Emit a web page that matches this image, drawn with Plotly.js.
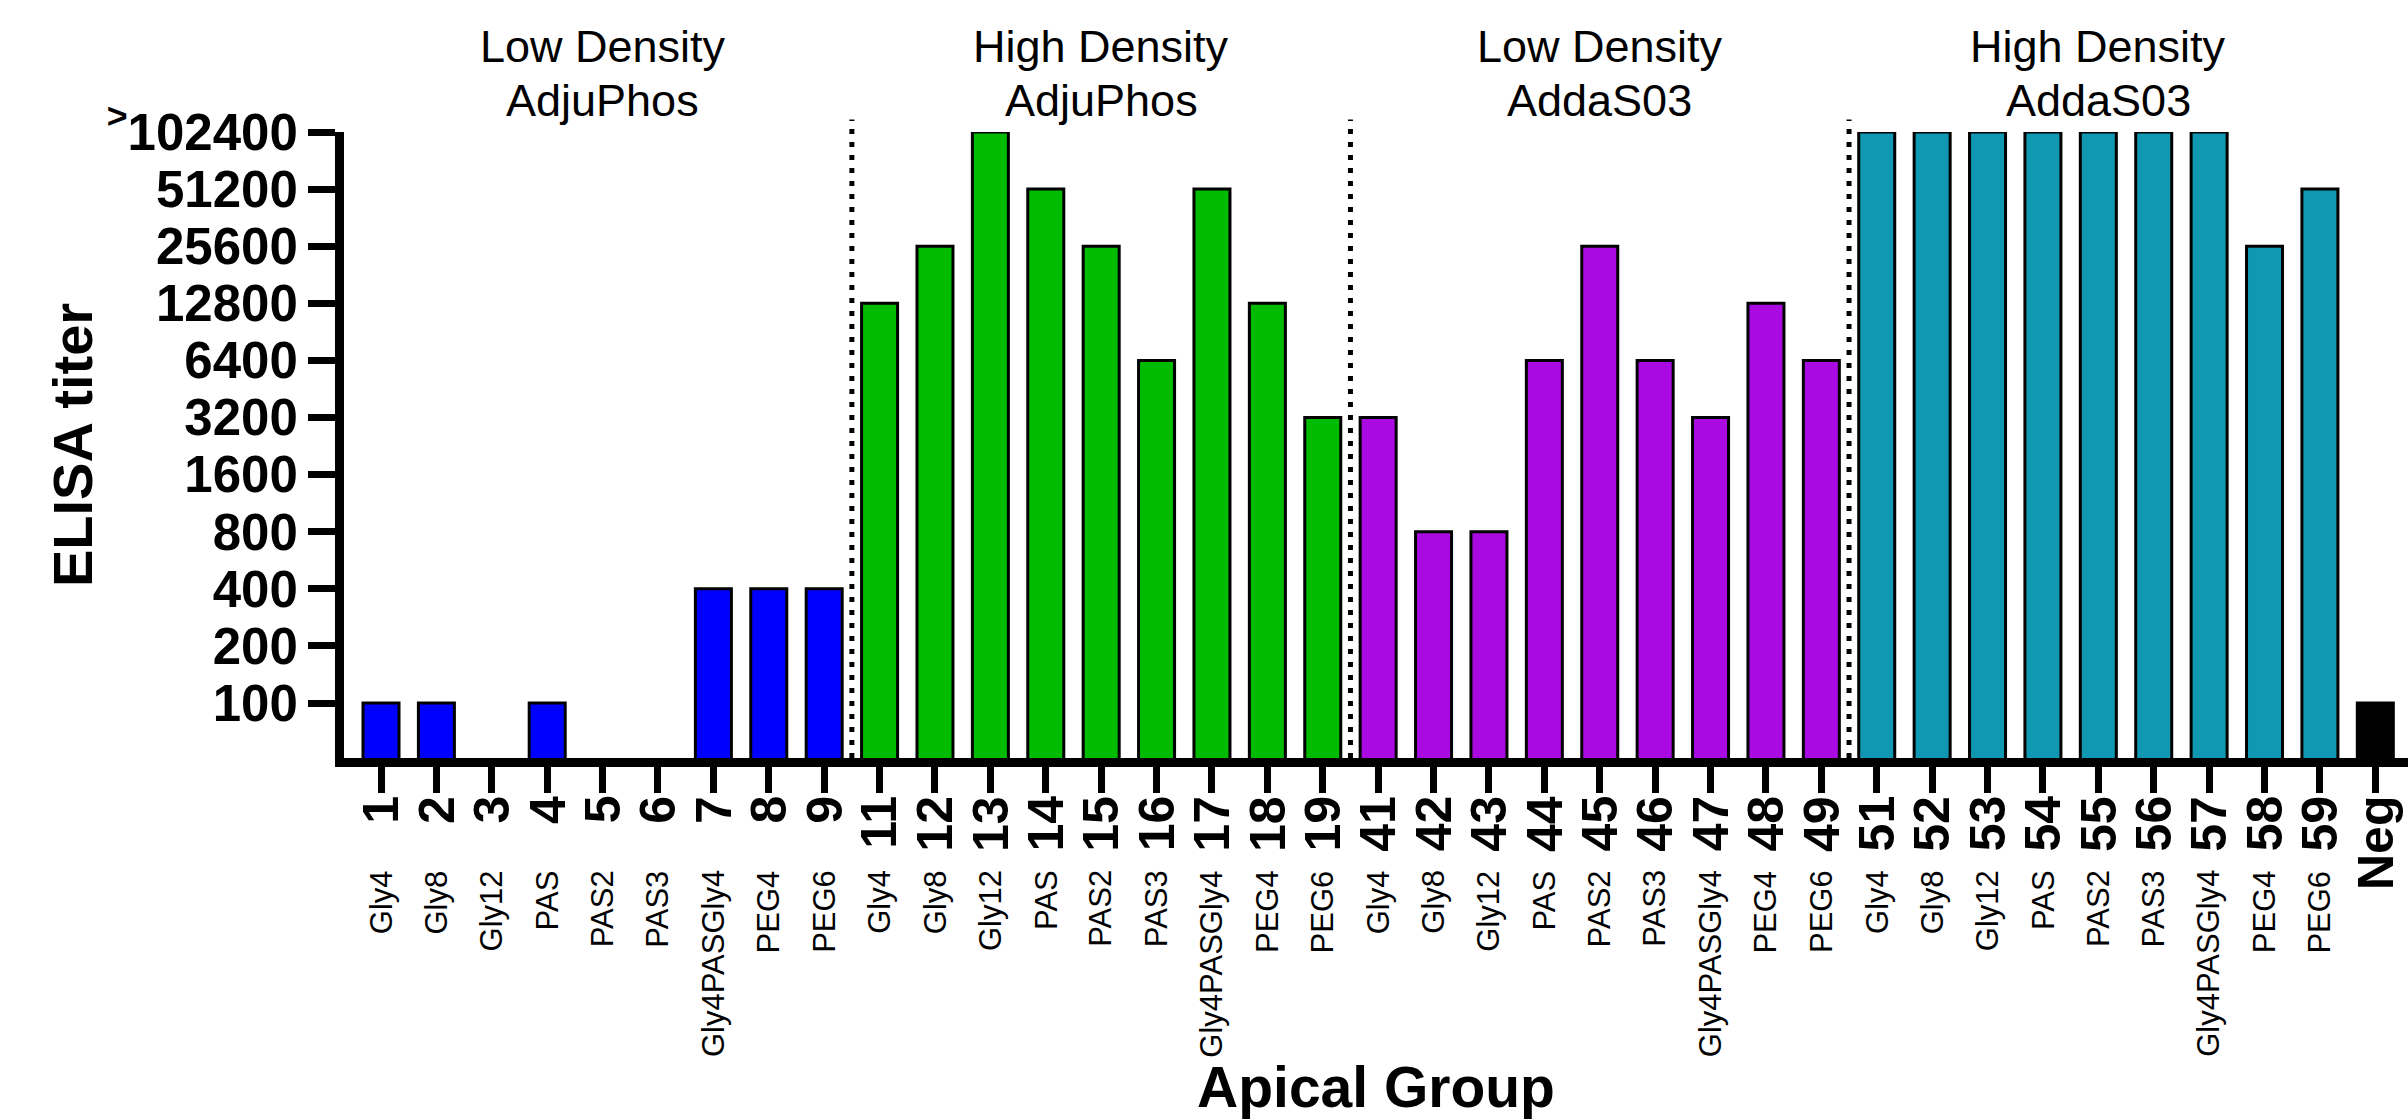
<!DOCTYPE html>
<html>
<head>
<meta charset="utf-8">
<script src="https://cdn.plot.ly/plotly-3.0.1.min.js"></script>
<style>html,body{margin:0;padding:0;background:#fff;}#chart{width:2408px;height:1119px;}</style>
</head>
<body>
<div id="chart"></div>
<script>
// ---- data ----
const groupTitleTop = ["Low Density", "High Density", "Low Density", "High Density"];
const groupTitleBottom = ["AdjuPhos", "AdjuPhos", "AddaS03", "AddaS03"];
const groupIds = [
  ["1", "2", "3", "4", "5", "6", "7", "8", "9"],
  ["11", "12", "13", "14", "15", "16", "17", "18", "19"],
  ["41", "42", "43", "44", "45", "46", "47", "48", "49"],
  ["51", "52", "53", "54", "55", "56", "57", "58", "59"]
];
const linkerNames = ["Gly4", "Gly8", "Gly12", "PAS", "PAS2", "PAS3", "Gly4PASGly4", "PEG4", "PEG6"];
const titerLowAdjuPhos  = [100, 100, null, 100, null, null, 400, 400, 400];
const titerHighAdjuPhos = [12800, 25600, 102400, 51200, 25600, 6400, 51200, 12800, 3200];
const titerLowAddaS03   = [3200, 800, 800, 6400, 25600, 6400, 3200, 12800, 6400];
const titerHighAddaS03  = [102400, 102400, 102400, 102400, 102400, 102400, 102400, 25600, 51200];
const negLabel = "Neg";
const negTiter = [100];
const yTickVals = [100, 200, 400, 800, 1600, 3200, 6400, 12800, 25600, 51200, 102400];
const yTickText = ["100", "200", "400", "800", "1600", "3200", "6400", "12800", "25600", "51200", "<sup>&gt;</sup>102400"];

// ---- style ----
const groupColors = ["#0000ff", "#00bb00", "#aa0ae2", "#1098b2"];
const negColor = "#000000";
const FONT = "Arial, 'Liberation Sans', sans-serif";
const AXIS_FLOOR = 51.3;
const BAR_WIDTH = 0.65;

const titers = [titerLowAdjuPhos, titerHighAdjuPhos, titerLowAddaS03, titerHighAddaS03];
const allCats = [].concat(...groupIds, [negLabel]);

const traces = groupIds.map((ids, g) => ({
  type: "bar",
  x: ids,
  y: titers[g],
  width: BAR_WIDTH,
  marker: {color: groupColors[g], line: {color: "#000", width: 3}},
  cliponaxis: false,
  hoverinfo: "x+y",
  showlegend: false
}));
traces.push({
  type: "bar",
  x: [negLabel],
  y: negTiter,
  width: BAR_WIDTH,
  marker: {color: negColor, line: {color: "#000", width: 3}},
  cliponaxis: false,
  showlegend: false
});

const annotations = [];
const shapes = [];
const idLabelStyle = {textangle: -90, showarrow: false, xanchor: "center", yanchor: "top",
  font: {family: FONT, size: 50, color: "#000", weight: "bold"}};
let offset = 0;
groupIds.forEach((ids, g) => {
  const center = offset + (ids.length - 1) / 2;
  annotations.push({xref: "x", yref: "paper", x: center, y: 1.136, text: groupTitleTop[g],
    showarrow: false, font: {family: FONT, size: 45, color: "#000"}, xanchor: "center", yanchor: "middle"});
  annotations.push({xref: "x", yref: "paper", x: center, y: 1.05, text: groupTitleBottom[g],
    showarrow: false, font: {family: FONT, size: 45, color: "#000"}, xanchor: "center", yanchor: "middle"});
  ids.forEach((id, i) => {
    annotations.push(Object.assign({xref: "x", yref: "paper", x: offset + i, y: -0.057, text: id}, idLabelStyle));
    annotations.push({xref: "x", yref: "paper", x: offset + i, y: -0.176, text: linkerNames[i],
      textangle: -90, showarrow: false, font: {family: FONT, size: 31, color: "#000"},
      xanchor: "center", yanchor: "top"});
  });
  offset += ids.length;
  if (g < groupIds.length - 1) {
    shapes.push({type: "line", xref: "x", yref: "paper", x0: offset - 0.5, x1: offset - 0.5, y0: 0, y1: 1.02,
      line: {color: "#000", width: 5, dash: "5px,8px"}});
  }
});
annotations.push(Object.assign({xref: "x", yref: "paper", x: offset, y: -0.057, text: negLabel}, idLabelStyle));

const layout = {
  width: 2408, height: 1119,
  margin: {l: 344, r: 0, t: 132, b: 361, pad: 0},
  paper_bgcolor: "#fff", plot_bgcolor: "#fff",
  bargap: 0.35,
  xaxis: {
    type: "category", categoryorder: "array", categoryarray: allCats,
    tickmode: "array", tickvals: allCats, ticktext: allCats,
    range: [-0.668, 36.59],
    showline: true, linecolor: "#000", linewidth: 9,
    ticks: "outside", ticklen: 26, tickwidth: 7, tickcolor: "#000",
    showticklabels: false,
    showgrid: false, zeroline: false, fixedrange: true,
    title: {text: "<b>Apical Group</b>", font: {family: FONT, size: 57, color: "#000"}, standoff: 320}
  },
  yaxis: {
    type: "log",
    range: [Math.log10(AXIS_FLOOR), Math.log10(102400)],
    tickmode: "array", tickvals: yTickVals, ticktext: yTickText,
    showline: true, linecolor: "#000", linewidth: 9,
    ticks: "outside", ticklen: 27, tickwidth: 7, tickcolor: "#000",
    ticklabelstandoff: 0,
    tickfont: {family: FONT, size: 51, color: "#000", weight: "bold"},
    showgrid: false, zeroline: false, fixedrange: true,
    title: {text: "<b>ELISA titer</b>", font: {family: FONT, size: 56, color: "#000"}, standoff: 0}
  },
  annotations: annotations,
  shapes: shapes
};

Plotly.newPlot("chart", traces, layout, {displayModeBar: false, staticPlot: true});
</script>
</body>
</html>
